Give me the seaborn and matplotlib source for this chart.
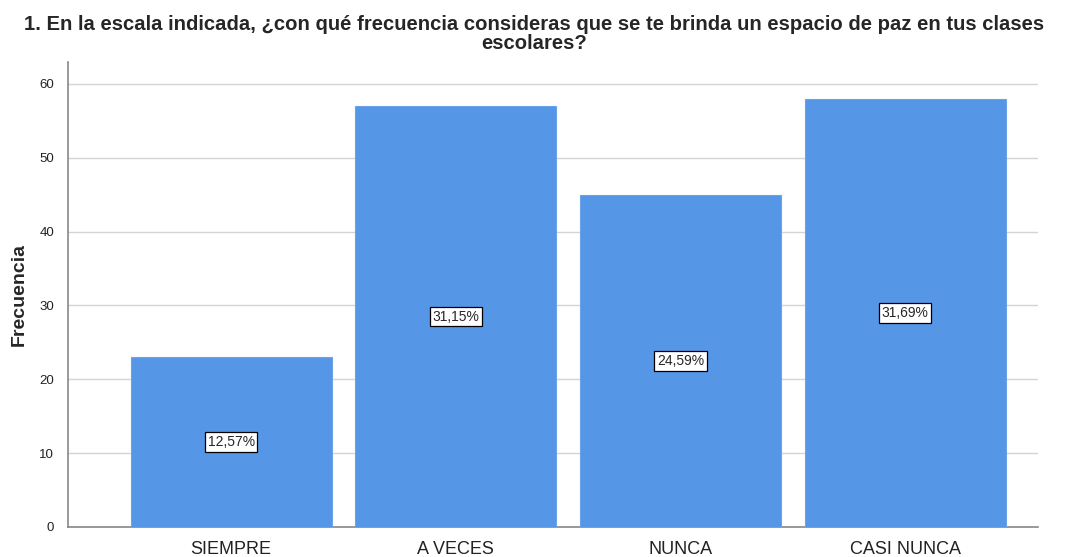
import seaborn as sns
import matplotlib.pyplot as plt
import pandas as pd

categorias = ['SIEMPRE', 'A VECES', 'NUNCA', 'CASI NUNCA']
frecuencias = [23, 57, 45, 58]
porcentajes = ['12,57%', '31,15%', '24,59%', '31,69%']

sns.set_style('white')
plt.rcParams['font.family'] = ['Liberation Sans', 'DejaVu Sans']

df = pd.DataFrame({'categoria': categorias, 'frecuencia': frecuencias})

fig = plt.figure(figsize=(10.68, 5.57), dpi=100)
ax = fig.add_axes([0.0637, 0.054, 0.908, 0.835])
sns.barplot(data=df, x='categoria', y='frecuencia', color='#5596E6', saturation=1,
            width=0.895, edgecolor='#6aa3ea', linewidth=0.8, ax=ax, zorder=3)

for i, (v, p) in enumerate(zip(frecuencias, porcentajes)):
    ax.text(i, v / 2, p, ha='center', va='center', fontsize=10, zorder=5,
            bbox=dict(boxstyle='square,pad=0.2', fc='white', ec='black', lw=0.9))

ax.set_ylim(0, 63)
ax.set_xlim(-0.726, 3.59)
ax.set_yticks([0, 10, 20, 30, 40, 50, 60])
ax.yaxis.grid(True, color='#d4d4d4', lw=1, zorder=0)
ax.tick_params(axis='y', labelsize=9.5, length=0, pad=10, colors='#222222')
ax.tick_params(axis='x', labelsize=13, length=0, pad=10, colors='#222222')
ax.set_xlabel('')
ax.set_ylabel('Frecuencia', fontsize=14, fontweight='bold', labelpad=8)
for s in ['top', 'right']:
    ax.spines[s].set_visible(False)
for s in ['left', 'bottom']:
    ax.spines[s].set_color('#888888')
    ax.spines[s].set_linewidth(1.2)

fig.suptitle('1. En la escala indicada, ¿con qué frecuencia consideras que se te brinda un espacio de paz en tus clases\nescolares?',
             fontsize=14.6, fontweight='bold', y=0.973, linespacing=1.0)

fig.savefig('out.png', dpi=100)
